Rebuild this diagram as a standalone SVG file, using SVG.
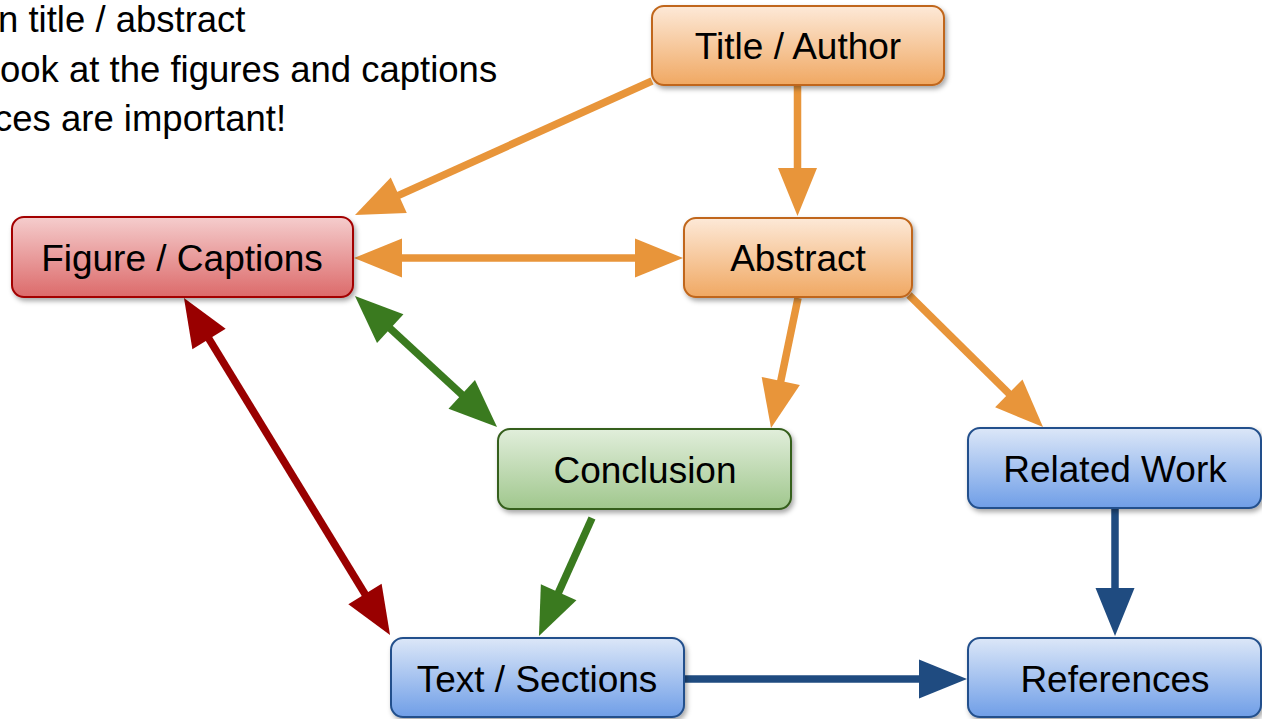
<svg xmlns="http://www.w3.org/2000/svg" width="1262" height="719" viewBox="0 0 1262 719">
  <style>
    text { font-family: "Liberation Sans", Arial, sans-serif; fill: #000; }
    .label { font-size: 37px; text-anchor: middle; }
    .note { font-size: 36.5px; }
    .box { stroke-width: 2; filter: url(#shadow); }
    .orange { fill: url(#gOrange); stroke: #c0661a; }
    .red { fill: url(#gRed); stroke: #a30000; }
    .green { fill: url(#gGreen); stroke: #345e1c; }
    .blue { fill: url(#gBlue); stroke: #23508c; }
    .edge { fill: none; stroke-width: 7.5; stroke-linecap: butt; }
    .eo { stroke: #e8953a; marker-end: url(#mOrange); }
    .eg { stroke: #3a7a1f; marker-end: url(#mGreen); }
    .er { stroke: #990000; marker-end: url(#mRed); }
    .eb { stroke: #1f4b80; marker-end: url(#mBlue); }
    .eo2 { marker-start: url(#mOrange); }
    .eg2 { marker-start: url(#mGreen); }
    .er2 { marker-start: url(#mRed); }
  </style>
  <defs>
    <linearGradient id="gOrange" x1="0" y1="0" x2="0" y2="1">
      <stop offset="0" stop-color="#fde9d8"/>
      <stop offset="1" stop-color="#f0a862"/>
    </linearGradient>
    <linearGradient id="gRed" x1="0" y1="0" x2="0" y2="1">
      <stop offset="0" stop-color="#f5cdcd"/>
      <stop offset="1" stop-color="#dc6a6a"/>
    </linearGradient>
    <linearGradient id="gGreen" x1="0" y1="0" x2="0" y2="1">
      <stop offset="0" stop-color="#e1eedb"/>
      <stop offset="1" stop-color="#a0c78d"/>
    </linearGradient>
    <linearGradient id="gBlue" x1="0" y1="0" x2="0" y2="1">
      <stop offset="0" stop-color="#dce7f8"/>
      <stop offset="1" stop-color="#6f9ee7"/>
    </linearGradient>
    <filter id="shadow" x="-10%" y="-20%" width="125%" height="150%">
      <feDropShadow dx="2" dy="3" stdDeviation="2.5" flood-color="#000" flood-opacity="0.35"/>
    </filter>
    <marker id="mOrange" markerUnits="strokeWidth" markerWidth="7" markerHeight="6" refX="3.2" refY="2.6" orient="auto-start-reverse" overflow="visible">
      <path d="M0,0 L6.4,2.6 L0,5.2 Z" fill="#e8953a"/>
    </marker>
    <marker id="mGreen" markerUnits="strokeWidth" markerWidth="7" markerHeight="6" refX="3.2" refY="2.6" orient="auto-start-reverse" overflow="visible">
      <path d="M0,0 L6.4,2.6 L0,5.2 Z" fill="#3a7a1f"/>
    </marker>
    <marker id="mRed" markerUnits="strokeWidth" markerWidth="7" markerHeight="6" refX="3.2" refY="2.6" orient="auto-start-reverse" overflow="visible">
      <path d="M0,0 L6.4,2.6 L0,5.2 Z" fill="#990000"/>
    </marker>
    <marker id="mBlue" markerUnits="strokeWidth" markerWidth="7" markerHeight="6" refX="3.2" refY="2.6" orient="auto-start-reverse" overflow="visible">
      <path d="M0,0 L6.4,2.6 L0,5.2 Z" fill="#1f4b80"/>
    </marker>
  </defs>

  <rect width="1262" height="719" fill="#ffffff"/>

  <!-- notes (run off the left edge) -->
  <g id="notes">
    <text class="note" x="-2" y="32">n title / abstract</text>
    <text class="note" x="0" y="82">ook at the figures and captions</text>
    <text class="note" x="-6" y="131">ces are important!</text>
  </g>

  <!-- connectors -->
  <g id="connectors">
    <line class="edge eo" x1="652" y1="81" x2="376.9" y2="205.1"/>
    <line class="edge eo" x1="797.5" y1="86" x2="797.5" y2="192"/>
    <line class="edge eo eo2" x1="378" y1="258" x2="659" y2="258"/>
    <line class="edge eo" x1="798" y1="298" x2="775.9" y2="404.5"/>
    <line class="edge eo" x1="909" y1="295" x2="1025.9" y2="410.2"/>
    <line class="edge eg eg2" x1="372.6" y1="312.3" x2="479.4" y2="410.7"/>
    <line class="edge er er2" x1="196.5" y1="318.5" x2="377.5" y2="614.5"/>
    <line class="edge eg" x1="592" y1="518" x2="548.8" y2="614.1"/>
    <line class="edge eb" x1="1115" y1="509" x2="1115" y2="612"/>
    <line class="edge eb" x1="685" y1="679" x2="943" y2="679"/>
  </g>

  <!-- nodes -->
  <g id="title-author">
    <rect class="box orange" x="652" y="6" width="292" height="79" rx="12"/>
    <text class="label" x="798" y="59">Title / Author</text>
  </g>
  <g id="abstract">
    <rect class="box orange" x="684" y="218" width="228" height="79" rx="12"/>
    <text class="label" x="798" y="271">Abstract</text>
  </g>
  <g id="figure-captions">
    <rect class="box red" x="12" y="217" width="341" height="80" rx="12"/>
    <text class="label" x="182" y="271">Figure / Captions</text>
  </g>
  <g id="conclusion">
    <rect class="box green" x="498" y="429" width="293" height="80" rx="12"/>
    <text class="label" x="645" y="483">Conclusion</text>
  </g>
  <g id="related-work">
    <rect class="box blue" x="968" y="428" width="293" height="80" rx="12"/>
    <text class="label" x="1115" y="482">Related Work</text>
  </g>
  <g id="text-sections">
    <rect class="box blue" x="391" y="638" width="293" height="79" rx="12"/>
    <text class="label" x="537" y="692">Text / Sections</text>
  </g>
  <g id="references">
    <rect class="box blue" x="968" y="638" width="293" height="79" rx="12"/>
    <text class="label" x="1115" y="692">References</text>
  </g>
</svg>
